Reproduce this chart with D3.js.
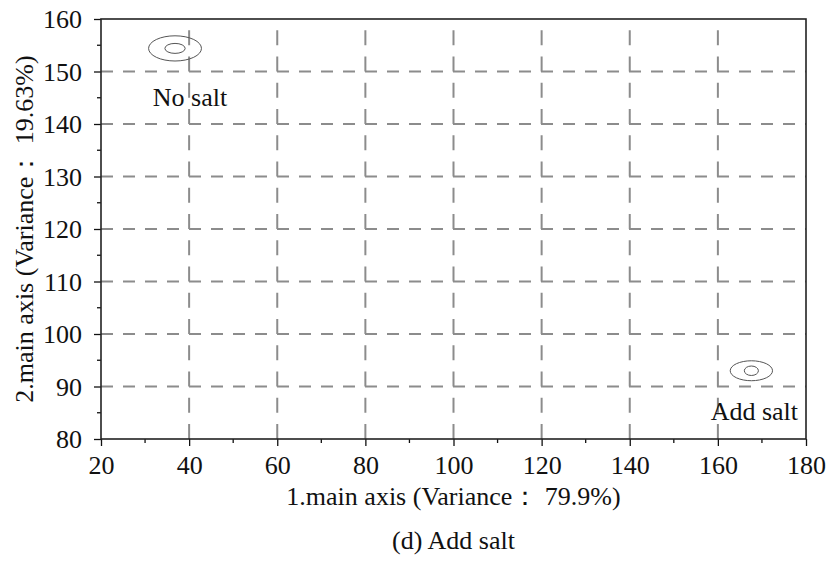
<!DOCTYPE html>
<html>
<head>
<meta charset="utf-8">
<script src="https://cdn.jsdelivr.net/npm/d3@7"></script>
<style>
  html, body { margin: 0; padding: 0; background: #fff; }
  svg { display: block; }
  text { font-family: "Liberation Serif", "Times New Roman", serif; fill: #111; }
</style>
</head>
<body>
<svg id="chart" width="831" height="573"></svg>
<script>
// ---- data ----
const groups = ["No salt", "Add salt"];
const centerX = [36.8, 167.6];
const centerY = [154.4, 93.0];
const outerRx = [6.0, 4.8];   // data units (axis 1)
const outerRy = [2.4, 1.9];   // data units (axis 2)
const innerRx = [2.3, 1.6];
const innerRy = [0.95, 0.9];
const xTicks = [20, 40, 60, 80, 100, 120, 140, 160, 180];
const yTicks = [80, 90, 100, 110, 120, 130, 140, 150, 160];
const xTitle = "1.main axis (Variance：  79.9%)";
const yTitle = "2.main axis (Variance：  19.63%)";
const caption = "(d) Add salt";

// ---- layout ----
const W = 831, H = 573;
const m = { left: 101, top: 19, right: 25, bottom: 134 };
const iw = W - m.left - m.right, ih = H - m.top - m.bottom;
const FS = 26;

const svg = d3.select("#chart");
const g = svg.append("g").attr("transform", `translate(${m.left},${m.top})`);

const x = d3.scaleLinear().domain([20, 180]).range([0, iw]);
const y = d3.scaleLinear().domain([80, 160]).range([ih, 0]);

// grid lines
const gridColor = "#8c8c8c";
g.append("g").selectAll("line.hg")
  .data(yTicks.filter(v => v > 80 && v < 160))
  .join("line")
  .attr("x1", 0).attr("x2", iw)
  .attr("y1", d => y(d)).attr("y2", d => y(d))
  .attr("stroke", gridColor).attr("stroke-width", 2)
  .attr("stroke-dasharray", "12,10");
g.append("g").selectAll("line.vg")
  .data(xTicks.filter(v => v > 20 && v < 180))
  .join("line")
  .attr("x1", d => x(d)).attr("x2", d => x(d))
  .attr("y1", ih).attr("y2", 0)
  .attr("stroke", gridColor).attr("stroke-width", 2)
  .attr("stroke-dasharray", "15,11.25");

// ellipses
const ell = g.append("g");
groups.forEach((name, i) => {
  const cx = x(centerX[i]), cy = y(centerY[i]);
  ell.append("ellipse")
    .attr("cx", cx).attr("cy", cy)
    .attr("rx", x(centerX[i] + outerRx[i]) - cx)
    .attr("ry", cy - y(centerY[i] + outerRy[i]))
    .attr("fill", "none").attr("stroke", "#555").attr("stroke-width", 1);
  ell.append("ellipse")
    .attr("cx", cx).attr("cy", cy)
    .attr("rx", x(centerX[i] + innerRx[i]) - cx)
    .attr("ry", cy - y(centerY[i] + innerRy[i]))
    .attr("fill", "none").attr("stroke", "#555").attr("stroke-width", 1);
});
// labels
const labelOffsets = [[15, 58], [3, 49]];
groups.forEach((name, i) => {
  g.append("text")
    .attr("x", x(centerX[i]) + labelOffsets[i][0])
    .attr("y", y(centerY[i]) + labelOffsets[i][1])
    .attr("text-anchor", "middle")
    .attr("font-size", FS)
    .text(name);
});

// axes
const xAxis = d3.axisBottom(x).tickValues(xTicks).tickSize(7).tickPadding(10).tickFormat(d3.format("d"));
const yAxis = d3.axisLeft(y).tickValues(yTicks).tickSize(7).tickPadding(12).tickFormat(d3.format("d"));
const xMinor = d3.range(30, 180, 20);
const yMinor = d3.range(85, 160, 10);

const gx = g.append("g").attr("transform", `translate(0,${ih})`).call(xAxis);
const gy = g.append("g").call(yAxis);
[gx, gy].forEach(a => {
  a.attr("font-size", null).attr("font-family", null);
  a.select(".domain").remove();
  a.selectAll(".tick line").attr("stroke", "#111").attr("stroke-width", 1.3);
  a.selectAll(".tick text").attr("font-size", FS)
    .style("font-family", '"Liberation Serif", "Times New Roman", serif').attr("fill", "#111");
});
gy.selectAll(".tick text").attr("dy", "0.34em");
g.append("g").selectAll("line").data(xMinor).join("line")
  .attr("x1", d => x(d)).attr("x2", d => x(d)).attr("y1", ih).attr("y2", ih + 4)
  .attr("stroke", "#111").attr("stroke-width", 1.3);
g.append("g").selectAll("line").data(yMinor).join("line")
  .attr("x1", 0).attr("x2", -4).attr("y1", d => y(d)).attr("y2", d => y(d))
  .attr("stroke", "#111").attr("stroke-width", 1.3);

// frame
g.append("rect").attr("x", 0).attr("y", 0).attr("width", iw).attr("height", ih)
  .attr("fill", "none").attr("stroke", "#222").attr("stroke-width", 1.6);

// titles
svg.append("text")
  .attr("x", m.left + iw / 2).attr("y", 505)
  .attr("text-anchor", "middle").attr("font-size", FS)
  .text(xTitle);
svg.append("text")
  .attr("transform", `translate(33,${m.top + ih / 2}) rotate(-90)`)
  .attr("text-anchor", "middle").attr("font-size", FS)
  .text(yTitle);
svg.append("text")
  .attr("x", m.left + iw / 2).attr("y", 549)
  .attr("text-anchor", "middle").attr("font-size", FS)
  .text(caption);
</script>
</body>
</html>
